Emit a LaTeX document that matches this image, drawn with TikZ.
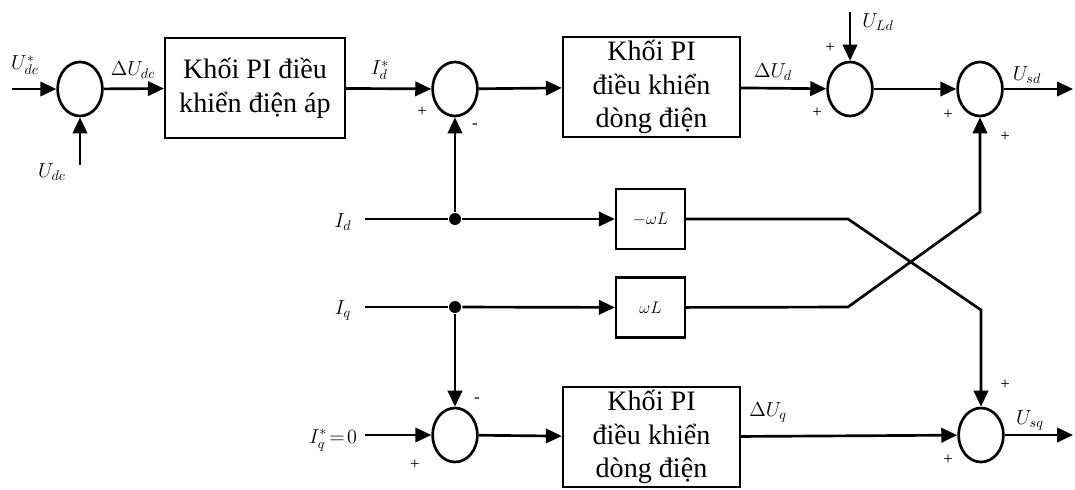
\documentclass[tikz,border=0pt]{standalone}
\usepackage{fontspec}
\setmainfont{Liberation Serif}
\usetikzlibrary{arrows.meta,shapes.geometric}

\begin{document}
\begin{tikzpicture}[x=0.025cm,y=-0.025cm,line width=1.9pt,
  sumnode/.style={draw,ellipse,minimum width=1.12cm,minimum height=1.35cm,inner sep=0pt},
  piblock/.style={draw,line width=1.5pt,align=center,font=\fontsize{20}{24}\selectfont,
    minimum width=4.43cm,minimum height=2.5cm,inner sep=0pt},
  wlblock/.style={draw,line width=1.5pt,minimum width=1.73cm,minimum height=1.5cm,
    font=\fontsize{13}{15}\selectfont},
  sig/.style={font=\fontsize{14}{16}\selectfont,inner sep=1pt},
  pm/.style={font=\fontsize{12}{12}\selectfont,inner sep=0pt},
  arr/.style={-{Triangle[length=0.4cm,width=0.36cm]}},
  jdot/.style={circle,fill,inner sep=0pt,minimum size=0.3cm}]
\useasboundingbox (0,0) rectangle (1075,489);
% blocks
\node[sumnode] (s1) at (80,89) {};
\node[piblock,minimum width=4.5cm] (pu) at (255,88) {Khối PI điều\\khiển điện áp};
\node[sumnode] (s2) at (455,89) {};
\node[piblock] (pd) at (651.5,87) {Khối PI\\điều khiển\\dòng điện};
\node[sumnode] (s3) at (850,89) {};
\node[sumnode] (s4) at (980,89) {};
\node[wlblock] (w1) at (650.5,219) {$-\omega L$};
\node[wlblock] (w2) at (650.5,307.5) {$\omega L$};
\node[sumnode] (s5) at (455,435) {};
\node[piblock] (pq) at (651.5,437) {Khối PI\\điều khiển\\dòng điện};
\node[sumnode] (s6) at (981,435) {};
\node[jdot] (jd) at (455,219) {};
\node[jdot] (jq) at (455,307) {};
\coordinate (udc) at (12,89);
\coordinate (fb) at (80,165);
\coordinate (uld) at (850,12);
\coordinate (osd) at (1073,89);
\coordinate (id) at (365,219);
\coordinate (iq) at (365,307);
\coordinate (iq0) at (365,435);
\coordinate (osq) at (1073,435);
\coordinate (kd) at (848,219);
\coordinate (kd2) at (981,310);
\coordinate (kq) at (848,307);
\coordinate (kq2) at (980,212);
% connectors
\draw[arr] (udc) -- (s1);
\draw[arr] (fb) -- (s1.south);
\draw[arr] (s1) -- (pu);
\draw[arr] (pu) -- (s2);
\draw[arr] (s2) -- (pd);
\draw[arr] (pd) -- (s3);
\draw[arr] (uld) -- (s3.north);
\draw[arr] (s3) -- (s4);
\draw[arr] (s4) -- (osd);
\draw (id) -- (jd);
\draw[arr] (jd) -- (w1);
\draw[arr] (jd) -- (s2.south);
\draw (iq) -- (jq);
\draw[arr] (jq) -- (w2);
\draw[arr] (jq) -- (s5.north);
\draw[arr] (iq0) -- (s5);
\draw[arr] (s5) -- (pq);
\draw[arr] (pq) -- (s6);
\draw[arr] (s6) -- (osq);
\draw[arr] (w1) -- (kd) -- (kd2) -- (s6.north);
\draw[arr] (w2) -- (kq) -- (kq2) -- (s4.south);
% labels
\node[sig] (lu1) at (25,65) {$U_{dc}^{*}$};
\node[sig] (lu2) at (133,70) {$\Delta U_{dc}$};
\node[sig] (lu3) at (52,172) {$U_{dc}$};
\node[sig] (li1) at (380,70) {$I_d^{*}$};
\node[sig] (lu4) at (773,72) {$\Delta U_d$};
\node[sig] (lu5) at (878,22) {$U_{Ld}$};
\node[sig] (lu6) at (1027,75) {$U_{sd}$};
\node[sig] (li2) at (343,222) {$I_d$};
\node[sig] (li3) at (343,310) {$I_q$};
\node[sig] (li4) at (333,440) {$I_q^{*}\!=\!0$};
\node[sig] (lu7) at (768,412) {$\Delta U_q$};
\node[sig] (lu8) at (1030,420) {$U_{sq}$};
% signs
\node[pm] (p1) at (422,112) {+};
\node[pm] (p2) at (475,126) {-};
\node[pm] (p3) at (830,48) {+};
\node[pm] (p4) at (817,113) {+};
\node[pm] (p5) at (948,115) {+};
\node[pm] (p6) at (1005,137) {+};
\node[pm] (p7) at (477,400) {-};
\node[pm] (p8) at (415,465) {+};
\node[pm] (p9) at (1005,385) {+};
\node[pm] (p10) at (948,460) {+};
\end{tikzpicture}
\end{document}
